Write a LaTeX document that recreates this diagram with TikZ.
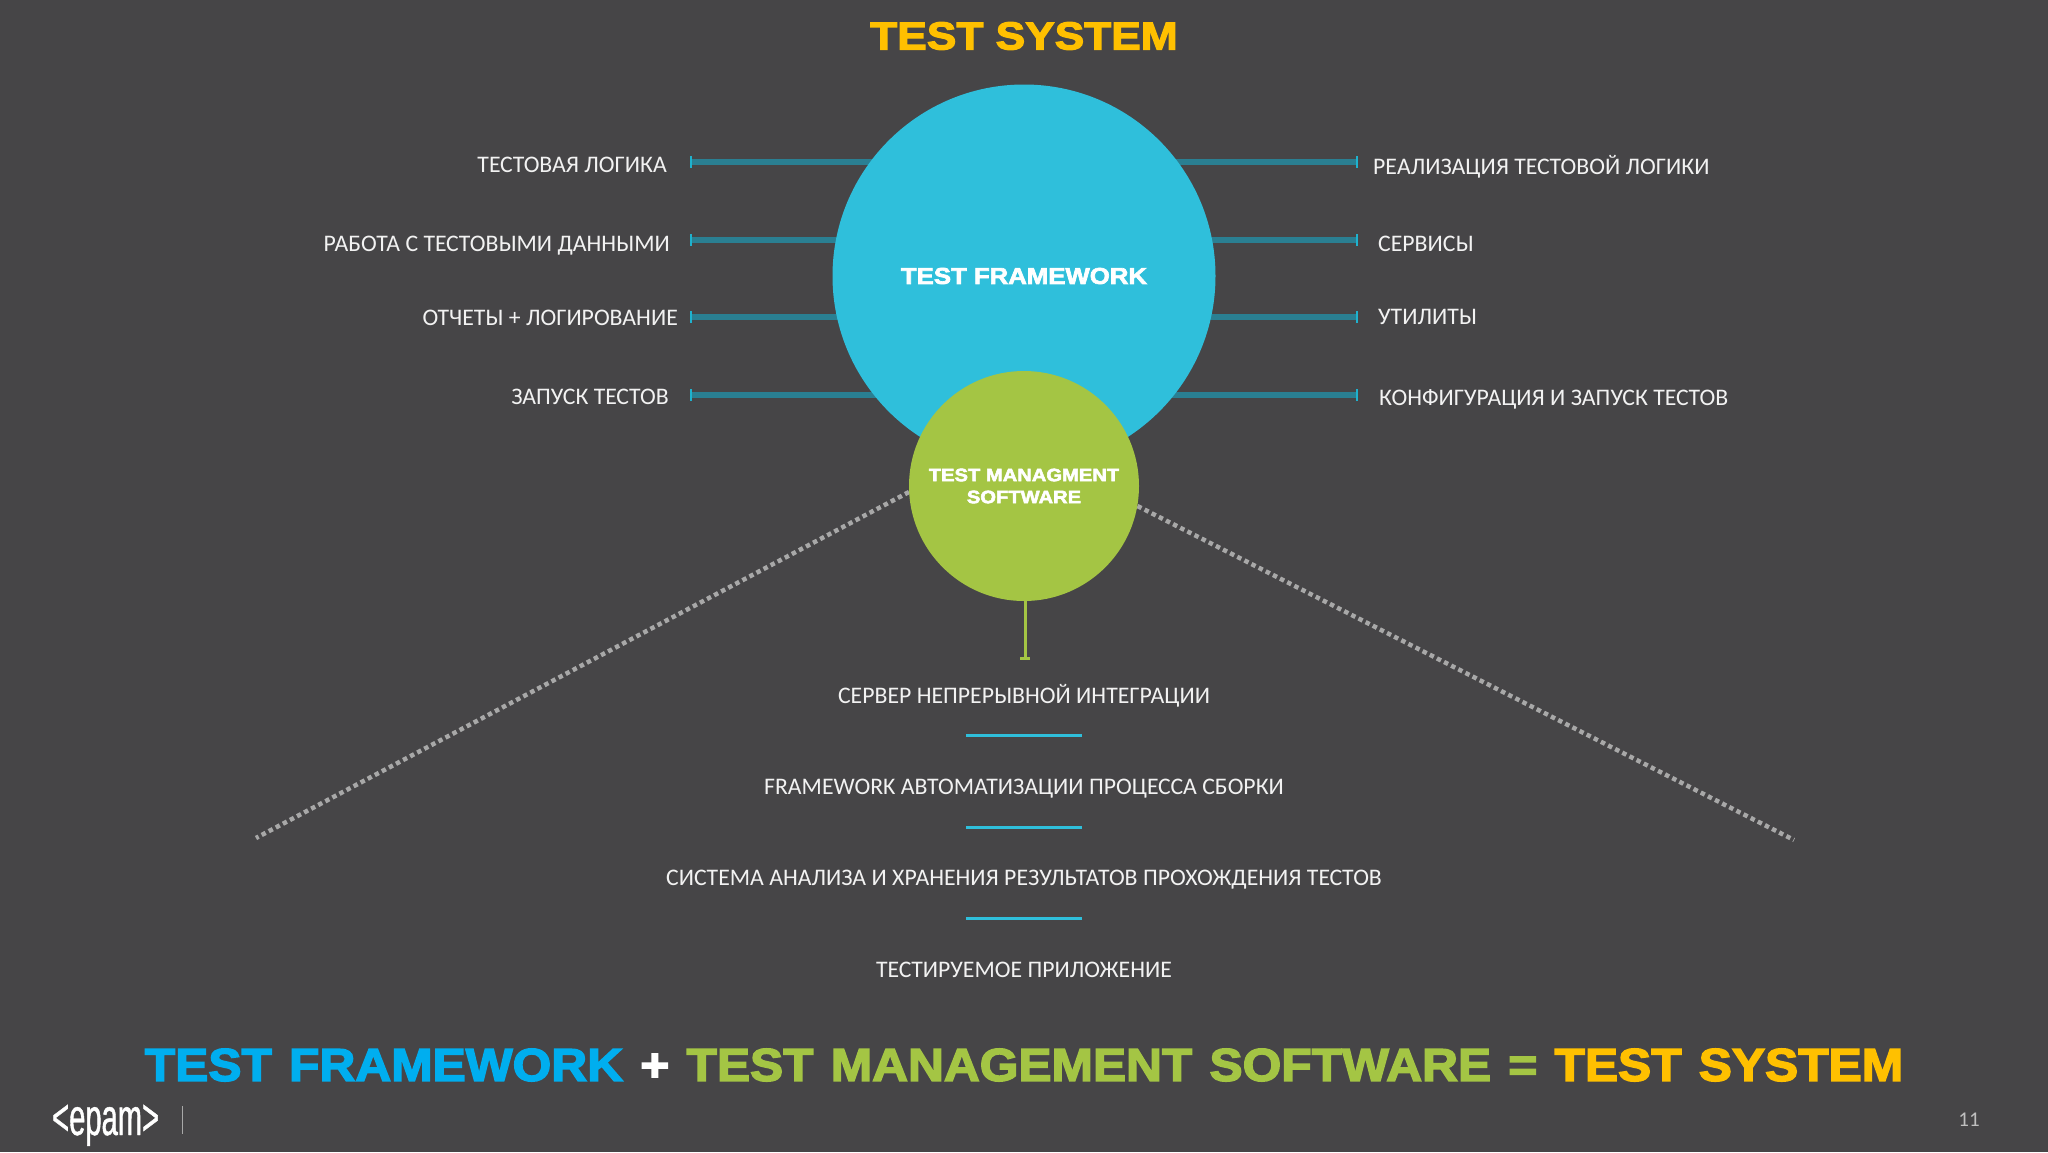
\documentclass[tikz,border=0pt]{standalone}
\usepackage{fontspec}
\usetikzlibrary{backgrounds}
\newfontfamily\labfont{Carlito}
\newfontfamily\blkfont[UprightFont=* Bold,FakeBold=3,FakeStretch=1.12]{Liberation Sans}
\newfontfamily\ttlfont[UprightFont=* Bold,FakeBold=3,FakeStretch=1.135]{Liberation Sans}
\newfontfamily\barfont[UprightFont=* Bold,FakeBold=3.2,FakeStretch=1.08,WordSpace=1.25]{Liberation Sans}
\newfontfamily\logofont[FakeStretch=0.56,FakeBold=0.8]{Liberation Sans}
\newfontfamily\numfont{Carlito}
\definecolor{bg}{HTML}{464547}
\definecolor{cyanball}{HTML}{2FBFDB}
\definecolor{greenball}{HTML}{A4C544}
\definecolor{teal}{HTML}{2A7F92}
\definecolor{tick}{HTML}{1FB2CE}
\definecolor{goldt}{HTML}{FFC000}
\definecolor{bluet}{HTML}{00AEEF}
\definecolor{dots}{HTML}{A8A8A8}
\tikzset{
  ball/.style={circle,inner sep=0pt,align=center,text=white,font=\blkfont\fontsize{23}{22}\selectfont},
  lab/.style={text=white!95!black,inner sep=0pt,text height=15pt,text depth=0pt,font=\labfont\fontsize{23.75}{28}\selectfont},
  leftlab/.style={lab,anchor=east},
  rightlab/.style={lab,anchor=west},
  midlab/.style={lab,anchor=center},
  spoke/.style={draw=teal,line width=6pt},
  tickmark/.style={draw=tick,line width=2pt},
  sepbar/.style={draw=cyanball,line width=3pt},
  dotline/.style={draw=dots,line width=4.5pt,dash pattern=on 4.5pt off 3.5pt},
  stem/.style={draw=greenball,line width=3pt},
}
\begin{document}
\begin{tikzpicture}[x=1pt,y=-1pt]
\useasboundingbox (0,0) rectangle (2048,1152);
\begin{pgfonlayer}{background}
\fill[bg] (0,0) rectangle (2048,1152);
\end{pgfonlayer}

\node[font=\ttlfont\fontsize{39}{40}\selectfont,text=goldt,inner sep=0pt] (title) at (1024,36) {TEST SYSTEM};

\node[ball,fill=cyanball,minimum size=383pt] (big) at (1024,276) {TEST FRAMEWORK};
\node[ball,fill=greenball,minimum size=230pt,font=\blkfont\fontsize{18}{22}\selectfont] (small) at (1024,486) {TEST MANAGMENT\\SOFTWARE};

% spokes: free ends
\coordinate (la) at (691,161.5);
\coordinate (lb) at (691,239.5);
\coordinate (lc) at (691,317);
\coordinate (ld) at (691,395);
\coordinate (ra) at (1357,161.5);
\coordinate (rb) at (1357,239.5);
\coordinate (rc) at (1357,317);
\coordinate (rd) at (1357,395);
\begin{pgfonlayer}{background}
\foreach \p in {la,lb,lc,ld,ra,rb,rc,rd}{
  \draw[spoke] (\p) -- (\p -| big.center);
  \draw[tickmark] ([yshift=-6pt]\p) -- ([yshift=6pt]\p);
}
\end{pgfonlayer}

\node[leftlab] (t1) at (667,165) {ТЕСТОВАЯ ЛОГИКА};
\node[leftlab] (t2) at (670,243.5) {РАБОТА С ТЕСТОВЫМИ ДАННЫМИ};
\node[leftlab] (t3) at (678,318) {ОТЧЕТЫ + ЛОГИРОВАНИЕ};
\node[leftlab] (t4) at (669,396.5) {ЗАПУСК ТЕСТОВ};
\node[rightlab] (u1) at (1373,167) {РЕАЛИЗАЦИЯ ТЕСТОВОЙ ЛОГИКИ};
\node[rightlab] (u2) at (1378,244) {СЕРВИСЫ};
\node[rightlab] (u3) at (1378,316.5) {УТИЛИТЫ};
\node[rightlab] (u4) at (1379,398) {КОНФИГУРАЦИЯ И ЗАПУСК ТЕСТОВ};

% dotted lines
\coordinate (dl) at (256,838);
\coordinate (dr) at (1794,840);
\begin{pgfonlayer}{background}
\draw[dotline] (small.183) -- (dl);
\draw[dotline] (small.350) -- (dr);
\end{pgfonlayer}

% stem
\coordinate (st) at (1025,658);
\draw[stem] (small.south -| st) -- (st);
\draw[stem] ([xshift=-5pt]st) -- ([xshift=5pt]st);

\node[midlab] (m1) at (1024,696) {СЕРВЕР НЕПРЕРЫВНОЙ ИНТЕГРАЦИИ};
\node[midlab] (m2) at (1024,787) {FRAMEWORK АВТОМАТИЗАЦИИ ПРОЦЕССА СБОРКИ};
\node[midlab] (m3) at (1024,878) {СИСТЕМА АНАЛИЗА И ХРАНЕНИЯ РЕЗУЛЬТАТОВ ПРОХОЖДЕНИЯ ТЕСТОВ};
\node[midlab] (m4) at (1024,970) {ТЕСТИРУЕМОЕ ПРИЛОЖЕНИЕ};

\coordinate (b1a) at (966,735.5); \coordinate (b1b) at (1082,735.5);
\coordinate (b2a) at (966,827); \coordinate (b2b) at (1082,827);
\coordinate (b3a) at (966,918.5); \coordinate (b3b) at (1082,918.5);
\draw[sepbar] (b1a) -- (b1b);
\draw[sepbar] (b2a) -- (b2b);
\draw[sepbar] (b3a) -- (b3b);

\node[inner sep=0pt,font=\barfont\fontsize{46}{50}\selectfont] (eq) at (1024,1065) {\textcolor{bluet}{TEST FRAMEWORK} \textcolor{white}{+} \textcolor{greenball}{TEST MANAGEMENT SOFTWARE} \textcolor{greenball}{=} \textcolor{goldt}{TEST SYSTEM}};

\node[anchor=base west,inner sep=0pt,text=white,font=\logofont\fontsize{52}{52}\selectfont] (logo) at (52,1135) {<epam>};
\coordinate (sa) at (182,1106); \coordinate (sb) at (182,1134);
\draw[draw=dots,line width=1pt] (sa) -- (sb);
\node[inner sep=0pt,text=white!75!black,font=\numfont\fontsize{21}{24}\selectfont] (num) at (1969,1120) {11};
\end{tikzpicture}
\end{document}
